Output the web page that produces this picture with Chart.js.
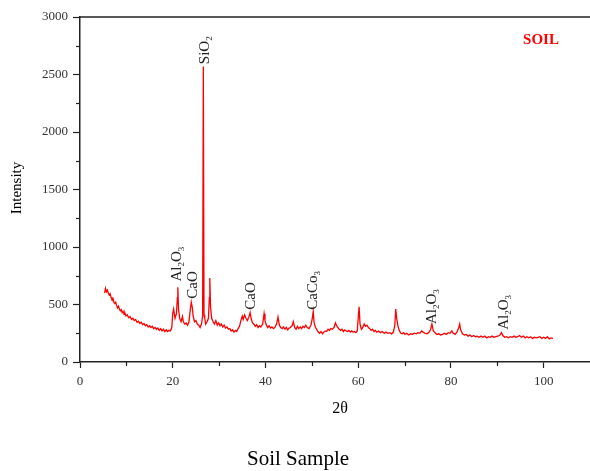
<!DOCTYPE html>
<html>
<head>
<meta charset="utf-8">
<script src="https://cdn.jsdelivr.net/npm/chart.js@4.4.0/dist/chart.umd.min.js"></script>
<style>
  html, body { margin: 0; padding: 0; background: #fff; }
  #wrap { width: 590px; height: 471px; }
</style>
</head>
<body>
<div id="wrap"><canvas id="xrdChart" width="590" height="471"></canvas></div>
<script>
// 2-theta positions and intensities
const twoTheta = [
  5.3, 5.5, 5.7, 5.9, 6.1, 6.3, 6.5, 6.7, 6.9, 7.1, 7.3, 7.5, 7.7, 7.9, 8.1, 8.3, 8.5, 8.7, 8.9, 9.1,
  9.3, 9.5, 9.7, 9.9, 10.2, 10.5, 10.8, 11.1, 11.4, 11.7, 12.0, 12.3, 12.6, 12.9, 13.2, 13.5, 13.8, 14.1, 14.4, 14.7,
  15.0, 15.3, 15.6, 15.9, 16.2, 16.5, 16.8, 17.1, 17.4, 17.7, 18.0, 18.3, 18.6, 18.9, 19.2, 19.5, 19.8, 20.0, 20.2, 20.5,
  20.8, 21.0, 21.1, 21.25, 21.5, 21.8, 22.1, 22.3, 22.6, 22.9, 23.2, 23.5, 23.8, 24.0, 24.2, 24.4, 24.7, 25.0, 25.3, 25.6,
  25.9, 26.2, 26.45, 26.6, 26.75, 26.9, 27.1, 27.4, 27.7, 27.9, 28.0, 28.15, 28.4, 28.7, 29.0, 29.3, 29.6, 29.9, 30.2,
  30.5, 30.8, 31.1, 31.4, 31.7, 32.0, 32.3, 32.6, 32.9, 33.2, 33.5, 33.8, 34.1, 34.4, 34.7, 35.0, 35.2, 35.5, 35.8, 36.1,
  36.4, 36.7, 36.9, 37.2, 37.5, 37.8, 38.1, 38.4, 38.7, 39.0, 39.4, 39.7, 39.9, 40.2, 40.5, 40.8, 41.1, 41.4, 41.7, 42.0,
  42.4, 42.7, 43.0, 43.3, 43.6, 43.9, 44.2, 44.5, 44.8, 45.1, 45.4, 45.8, 46.0, 46.3, 46.6, 46.9, 47.2, 47.5, 47.8, 48.1,
  48.4, 48.7, 49.0, 49.4, 49.8, 50.1, 50.3, 50.5, 50.8, 51.1, 51.4, 51.7, 52.0, 52.3, 52.6, 52.9, 53.2, 53.5, 53.8, 54.1,
  54.4, 54.8, 55.1, 55.3, 55.6, 55.9, 56.2, 56.5, 56.8, 57.1, 57.4, 57.7, 58.0, 58.3, 58.6, 58.9, 59.2, 59.5, 59.8, 60.0,
  60.2, 60.4, 60.7, 61.0, 61.3, 61.6, 61.9, 62.2, 62.5, 62.8, 63.1, 63.4, 63.7, 64.0, 64.4, 64.8, 65.2, 65.6, 66.0, 66.4,
  66.8, 67.2, 67.6, 67.9, 68.1, 68.3, 68.6, 68.9, 69.2, 69.5, 69.8, 70.1, 70.5, 70.9, 71.3, 71.7, 72.1, 72.5, 72.9, 73.3,
  73.7, 74.0, 74.4, 74.8, 75.2, 75.6, 75.9, 76.2, 76.6, 77.0, 77.4, 77.8, 78.2, 78.6, 79.0, 79.4, 79.8, 80.2, 80.5, 80.9,
  81.3, 81.7, 81.9, 82.1, 82.5, 82.9, 83.3, 83.7, 84.1, 84.5, 84.9, 85.3, 85.7, 86.1, 86.5, 86.9, 87.3, 87.7, 88.1, 88.5,
  88.9, 89.3, 89.7, 90.1, 90.5, 90.9, 91.2, 91.6, 92.0, 92.4, 92.8, 93.2, 93.6, 94.0, 94.4, 94.8, 95.2, 95.6, 96.0, 96.4,
  96.8, 97.2, 97.6, 98.0, 98.4, 98.8, 99.2, 99.6, 100.0, 100.4, 100.8, 101.2, 101.6, 102.0
];
const intensity = [
  600, 640, 610, 625, 600, 585, 595, 560, 545, 555, 520, 510, 520, 490, 470, 485, 460, 445, 455, 430,
  440, 415, 425, 400, 410, 385, 395, 370, 380, 360, 370, 345, 355, 335, 345, 325, 335, 315, 325, 305,
  315, 300, 310, 290, 300, 285, 295, 275, 290, 270, 285, 265, 280, 265, 275, 270, 300, 420, 460, 380,
  420, 560, 650, 460, 380, 350, 395, 350, 330, 340, 320, 350, 460, 520, 480, 400, 350, 360, 330, 320,
  300, 330, 400, 2570, 410, 380, 330, 350, 380, 560, 730, 480, 380, 350, 330, 360, 320, 340, 315,
  330, 305, 320, 295, 305, 285, 290, 270, 280, 260, 275, 265, 290, 310, 360, 400, 370, 410, 380, 360,
  390, 430, 380, 340, 330, 310, 325, 300, 315, 305, 330, 420, 360, 320, 300, 315, 295, 305, 290, 300,
  330, 390, 320, 300, 290, 305, 285, 300, 280, 295, 300, 320, 350, 300, 285, 310, 290, 305, 290, 310,
  300, 320, 300, 290, 320, 380, 440, 340, 300, 280, 260, 250, 265, 245, 260, 270, 265, 285, 275, 290,
  285, 300, 340, 320, 300, 285, 275, 285, 265, 280, 270, 265, 275, 260, 270, 260, 265, 255, 270, 380,
  480, 330, 285, 300, 330, 310, 320, 300, 290, 275, 285, 265, 275, 260, 270, 255, 265, 250, 260, 250,
  255, 245, 260, 320, 460, 380, 310, 270, 250, 245, 255, 240, 250, 235, 245, 240, 250, 245, 255, 250,
  270, 260, 250, 245, 255, 280, 330, 270, 255, 240, 245, 235, 240, 250, 240, 255, 250, 270, 250, 240,
  260, 300, 330, 280, 245, 235, 240, 225, 235, 220, 230, 220, 225, 215, 225, 215, 225, 210, 220, 215,
  225, 215, 220, 225, 230, 255, 230, 215, 220, 210, 220, 215, 225, 215, 220, 230, 215, 225, 210, 220,
  210, 220, 205, 215, 210, 215, 220, 205, 215, 205, 220, 200, 210, 205
];

// phase labels: name (underscore marks a subscript digit), 2-theta, intensity at the foot of the text
const phaseNames = ['SiO_2', 'Al_2O_3', 'CaO', 'CaO', 'CaCo_3', 'Al_2O_3', 'Al_2O_3'];
const phaseTheta = [26.9, 20.9, 24.3, 37.0, 50.3, 75.9, 91.4];
const phaseBase  = [2590, 700, 550, 455, 455, 330, 280];

const xMajor = [0, 20, 40, 60, 80, 100];
const xMinor = [10, 30, 50, 70, 90];
const yMinor = [250, 750, 1250, 1750, 2250, 2750];

const SERIF = '"Liberation Serif", "DejaVu Serif", serif';

function drawFormula(ctx, text, x, y, size) {
  // text runs upward from (x, y)
  ctx.save();
  ctx.translate(x, y);
  ctx.rotate(-Math.PI / 2);
  ctx.textBaseline = 'middle';
  ctx.textAlign = 'left';
  let pos = 0;
  for (let i = 0; i < text.length; i++) {
    let ch = text[i];
    if (ch === '_') {
      ch = text[++i];
      ctx.font = Math.round(size * 0.62) + 'px ' + SERIF;
      ctx.fillText(ch, pos, size * 0.32);
    } else {
      ctx.font = size + 'px ' + SERIF;
      ctx.fillText(ch, pos, 0);
    }
    pos += ctx.measureText(ch).width;
  }
  ctx.restore();
}

const extras = {
  id: 'extras',
  afterDraw(chart) {
    const ctx = chart.ctx;
    const area = chart.chartArea;
    const xs = chart.scales.x, ys = chart.scales.y;
    ctx.save();
    // top frame line
    ctx.strokeStyle = '#222';
    ctx.lineWidth = 1.5;
    ctx.beginPath();
    ctx.moveTo(area.left, area.top);
    ctx.lineTo(area.right, area.top);
    ctx.stroke();
    // minor ticks
    ctx.lineWidth = 1.2;
    xMinor.forEach(v => {
      const px = Math.round(xs.getPixelForValue(v)) + 0.5;
      ctx.beginPath();
      ctx.moveTo(px, area.bottom);
      ctx.lineTo(px, area.bottom + 4);
      ctx.stroke();
    });
    yMinor.forEach(v => {
      const py = Math.round(ys.getPixelForValue(v)) + 0.5;
      ctx.beginPath();
      ctx.moveTo(area.left, py);
      ctx.lineTo(area.left - 4, py);
      ctx.stroke();
    });
    // phase labels
    ctx.fillStyle = '#222';
    phaseNames.forEach((name, i) => {
      drawFormula(ctx, name, xs.getPixelForValue(phaseTheta[i]), ys.getPixelForValue(phaseBase[i]), 15);
    });
    // axis titles
    ctx.fillStyle = '#000';
    ctx.textAlign = 'center';
    ctx.textBaseline = 'middle';
    ctx.font = '16px ' + SERIF;
    ctx.fillText('2\u03B8', 340, 409);
    ctx.font = '21px ' + SERIF;
    ctx.fillText('Soil Sample', 298, 459);
    ctx.save();
    ctx.translate(17, 188);
    ctx.rotate(-Math.PI / 2);
    ctx.font = '15px ' + SERIF;
    ctx.fillText('Intensity', 0, 0);
    ctx.restore();
    ctx.fillStyle = '#ff0000';
    ctx.font = 'bold 15px ' + SERIF;
    ctx.fillText('SOIL', 541, 40);
    ctx.restore();
  }
};

const points = twoTheta.map((t, i) => ({ x: t, y: intensity[i] }));

const config = {
  type: 'line',
  data: {
    datasets: [{
      label: 'Soil',
      data: points,
      borderColor: '#ff0000',
      borderWidth: 1.3,
      pointRadius: 0,
      tension: 0,
      fill: false
    }]
  },
  options: {
    responsive: false,
    animation: false,
    layout: { padding: { top: 17, right: 0, left: 0, bottom: 0 } },
    plugins: {
      legend: { display: false },
      tooltip: { enabled: false }
    },
    scales: {
      x: {
        type: 'linear',
        min: 0,
        max: 110,
        afterFit(scale) { scale.height = 109; },
        afterBuildTicks(scale) { scale.ticks = xMajor.map(v => ({ value: v })); },
        grid: { display: true, drawOnChartArea: false, drawTicks: true, tickLength: 6, color: '#222', tickWidth: 1.2 },
        border: { display: true, color: '#222', width: 1.5 },
        ticks: { color: '#333', padding: 6, maxRotation: 0, font: { family: SERIF, size: 13 } }
      },
      y: {
        type: 'linear',
        min: 0,
        max: 3000,
        afterFit(scale) { scale.width = 80; },
        grid: { display: true, drawOnChartArea: false, drawTicks: true, tickLength: 7, color: '#222', tickWidth: 1.2 },
        border: { display: true, color: '#222', width: 1.5 },
        ticks: {
          stepSize: 500,
          color: '#333',
          padding: 5,
          font: { family: SERIF, size: 13 },
          callback: v => String(v)
        }
      }
    }
  },
  plugins: [extras]
};

window.onload = function() {
  const ctx = document.getElementById('xrdChart').getContext('2d');
  new Chart(ctx, config);
};
</script>
</body>
</html>
